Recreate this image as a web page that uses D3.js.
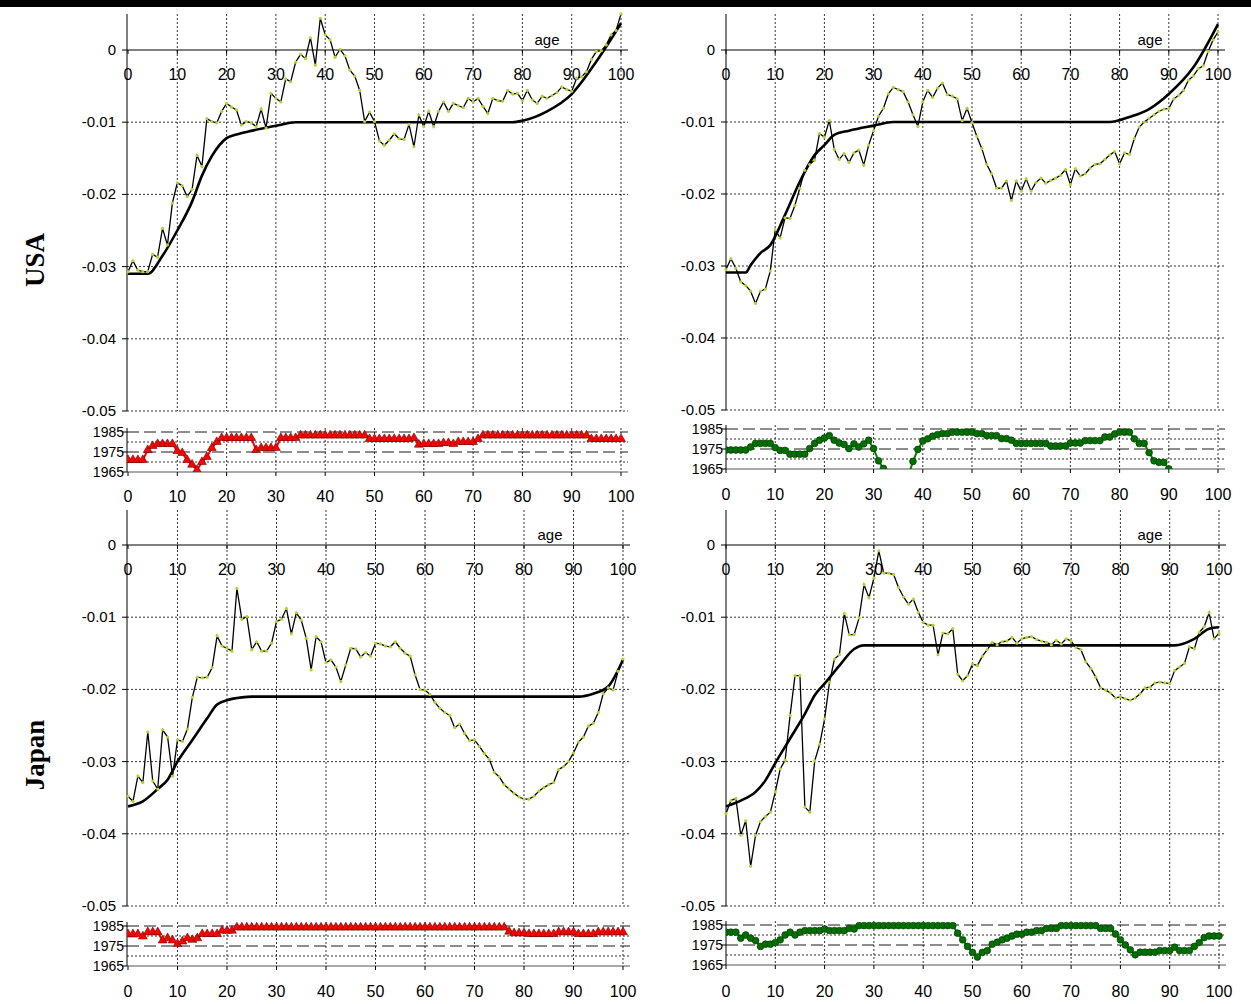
<!DOCTYPE html>
<html><head><meta charset="utf-8">
<script src="https://cdn.jsdelivr.net/npm/d3@7"></script>
<style>body{margin:0;background:#fff}svg{display:block;font-family:"Liberation Sans",Arial,sans-serif}</style>
</head><body>
<svg id="c" width="1251" height="1004"></svg>
<script>
const ages = d3.range(0,101);
const yTicks = [0,-0.01,-0.02,-0.03,-0.04,-0.05];
const stripTicks = [1985,1975,1965];
const xTicks = [0,10,20,30,40,50,60,70,80,90,100];
const rowLabels = ["USA","Japan"];

const usaMaleNoisy = [-30.7,-29.2,-30.5,-30.7,-30.7,-28.3,-28.7,-24.7,-27,-21.2,-18.4,-18.8,-20.3,-19.3,-14.6,-16.1,-9.5,-9.9,-10.1,-8.5,-7.4,-7.9,-8.3,-10.4,-9.9,-10.1,-10.6,-8.2,-10.8,-6,-6.7,-7.2,-4,-4.4,-1.7,-0.6,-1.2,1.7,-2.1,4.4,2.1,1.4,-1,0.1,-0.8,-2.8,-3.6,-5.6,-9.9,-8.6,-9.9,-12.6,-13.2,-12.5,-11.6,-12.3,-12.4,-10.3,-13.4,-9,-10.6,-8.5,-10.6,-8.5,-7.2,-8.5,-7.4,-7.7,-8,-6.7,-7.2,-6.7,-7.8,-8.8,-6.7,-7,-7.1,-5.6,-6.1,-6,-7,-5.6,-6.9,-7.4,-6.4,-6.7,-6.3,-5.9,-5.1,-5.5,-5.7,-3.9,-3.7,-3,-1.3,-0.2,-0.1,0.7,2.1,2.7,5.0];
const usaFemaleNoisy = [-30.5,-29,-30.3,-32.2,-32.7,-33.5,-35.2,-33.5,-33.2,-30.7,-25,-26.1,-23.3,-23.4,-21.6,-19.2,-16.7,-15.9,-15.3,-11.6,-12.1,-9.8,-13.8,-15.2,-14.4,-15.6,-14.3,-13.9,-16,-13.2,-11.2,-9.2,-8.1,-6.1,-5.2,-5.5,-5.8,-7.2,-9,-10.6,-7.2,-5.6,-6.6,-5.3,-4.6,-6.2,-6.4,-6.8,-9.8,-8.1,-10.1,-12,-13.7,-15.9,-17.2,-19.2,-19.2,-18.2,-20.9,-18.2,-19.6,-17.9,-19.6,-18.4,-17.8,-18.5,-18.1,-17.8,-17.4,-16.6,-18.7,-16.5,-17.5,-17.2,-16.4,-15.9,-15.8,-15.2,-14.6,-14.1,-15.8,-14.3,-14.5,-12.3,-10.7,-10,-9.5,-9,-8.5,-8.2,-8.1,-6.8,-6.3,-5.6,-4.2,-3.6,-2.6,-2.2,-0.2,1.4,2.5];
const japanMaleNoisy = [-34.8,-35.5,-32,-32.9,-25.9,-32.7,-33.8,-25.6,-26.6,-32,-27,-27.2,-25.5,-21.1,-18.3,-18.4,-18.3,-17,-12.6,-14,-14.3,-14.7,-6,-10.3,-9.9,-14.5,-13.4,-14.7,-14.7,-13.6,-10.6,-10.3,-8.8,-12.3,-9.4,-10.4,-12.9,-17.3,-12.7,-13.4,-16.3,-15.9,-16.9,-18.9,-16.6,-14.3,-14.4,-15.5,-14.9,-15.4,-13.6,-13.7,-14,-14.1,-13.4,-14.3,-15,-15.4,-18,-20,-20.1,-20.7,-21.8,-22.6,-23.2,-23.6,-25.3,-24.8,-26.1,-27.1,-27,-27.9,-28.9,-29.7,-31.5,-32.1,-33.2,-33.8,-34.4,-34.9,-35.2,-35.2,-34.8,-34.1,-33.6,-33.2,-32.9,-31.1,-30.7,-30,-28.8,-27.3,-26.6,-25.1,-24.7,-23.2,-20.6,-19.8,-20.1,-17.5,-15.8];
const japanFemaleNoisy = [-37.2,-35.4,-35.1,-40.2,-38.2,-44.5,-40.2,-38.3,-37.6,-37,-34.2,-31,-29.8,-23.6,-18.1,-18.1,-36.3,-37,-29.9,-27.6,-24.1,-19,-15.8,-15.2,-9.5,-12.4,-12.4,-10.1,-5.5,-7.3,-4.6,-0.8,-3.9,-3.9,-4.1,-5.9,-7.2,-8.2,-7.5,-9.3,-10.7,-11.1,-11.1,-15.2,-12.2,-12.3,-11.6,-17.9,-18.8,-18.1,-16.5,-16.7,-15.4,-14.5,-13.5,-13.8,-13.4,-13.3,-12.8,-13.6,-13,-12.8,-12.7,-13.1,-13.3,-13.5,-13.8,-13.2,-13.7,-13,-13.3,-14.2,-14.5,-16.2,-17.1,-18.3,-19.8,-20.1,-20.5,-21.2,-21,-21.3,-21.5,-21.2,-20.6,-19.8,-19.7,-19.1,-19,-19.1,-19.2,-17.4,-16.9,-16.4,-14.1,-14.4,-12.1,-11.3,-9.4,-13,-12.2];

const usaMaleSmoothAge = [0,4,7,10,13,15,17,20,22,25,30,34,78,80,85,90,95,100];
const usaMaleSmoothVal = [-31,-31,-28.5,-25,-21,-17.4,-14.7,-12.2,-11.7,-11.2,-10.5,-10,-10,-9.8,-8.5,-6.1,-1.6,3.7];
const usaFemaleSmoothAge = [0,4,5,7,9,12,15,18,20,22,25,30,34,78,82,86,90,95,100];
const usaFemaleSmoothVal = [-30.9,-30.9,-29.9,-28.2,-27.1,-22.9,-18.3,-14.6,-13.2,-11.8,-11.2,-10.5,-10,-10,-9.3,-8.2,-6.1,-2.4,3.6];
const japanMaleSmoothAge = [0,3,6,8,10,13,16,18,20,23,25,91,94,97,100];
const japanMaleSmoothVal = [-36.2,-35.5,-33.8,-32.5,-30,-27,-24,-22.1,-21.5,-21.1,-21,-21,-20.6,-19.6,-15.9];
const japanFemaleSmoothAge = [0,3,6,8,10,13,16,18,20,23,26,28,29,91,95,98,100];
const japanFemaleSmoothVal = [-36.2,-35.4,-34.2,-32.6,-30.2,-26.8,-23.4,-20.8,-19.2,-16.7,-14.4,-13.9,-13.9,-13.9,-13,-11.6,-11.4];

const usaMaleYear = [1971,1971,1971,1971,1976,1978,1979,1979,1979,1979,1975.5,1974.5,1971,1968.7,1966,1970,1972.5,1977,1980,1982,1982,1982,1982,1982,1982,1982,1976,1977,1977,1977,1977,1982,1982,1982,1982,1983.3,1983.3,1983.3,1983.3,1983.3,1983.3,1983.3,1983.3,1983.3,1983.3,1983.3,1983.3,1983.3,1983.3,1981.5,1981.5,1981.5,1981.5,1981.5,1981.5,1981.5,1981.5,1981.5,1982,1978.7,1979,1979,1979,1979,1979.5,1979.5,1979,1980,1980,1980,1980,1981.5,1983.3,1983.3,1983.3,1983.3,1983.3,1983.3,1983.3,1983.3,1983.3,1983.3,1983.3,1983.3,1983.3,1983.3,1983.3,1983.3,1983.3,1983.3,1983.3,1983.3,1983.3,1983.3,1981.5,1981.5,1981.5,1981.5,1981.5,1981.5,1981.5];
const usaFemaleYear = [1974.5,1974.5,1974.5,1974.5,1974.5,1976,1977.8,1977.8,1977.8,1977.8,1975.7,1974.3,1974.3,1972.4,1972.4,1972.4,1972.4,1975.2,1977.8,1979.4,1980.5,1981.7,1979.4,1978,1977.3,1975.2,1977.6,1976,1977.6,1979.4,1975.2,1969.1,1965.3,1961,1958,1958,1958,1961,1968.8,1974.8,1979,1980.1,1981.4,1982.2,1982.7,1982.7,1983.4,1983.4,1983.4,1983.4,1983.4,1982.7,1982.7,1981.7,1981.7,1981.7,1980.2,1980.2,1979.4,1977.8,1977.8,1977.8,1977.8,1977.8,1977.8,1977.8,1976.5,1976.5,1976.5,1976.5,1978,1978,1978,1979.2,1979.2,1979.2,1979.2,1981,1981,1982.5,1983.4,1983.4,1983.4,1980.1,1977.8,1977.8,1973.2,1969.1,1968.3,1968.3,1965,1962,1960,1960,1960,1960,1960,1960,1960,1960,1960];
const japanMaleYear = [1980.9,1980.9,1980.9,1979.8,1981.9,1981.9,1981.9,1977.8,1978.9,1977.8,1976,1977.3,1978.9,1978.1,1978.9,1981,1981,1981,1981,1982.7,1982.7,1982.7,1984.3,1984.3,1984.3,1984.3,1984.3,1984.3,1984.3,1984.3,1984.3,1984.3,1984.3,1984.3,1984.3,1984.3,1984.3,1984.3,1984.3,1984.3,1984.3,1984.3,1984.3,1984.3,1984.3,1984.3,1984.3,1984.3,1984.3,1984.3,1984.3,1984.3,1984.3,1984.3,1984.3,1984.3,1984.3,1984.3,1984.3,1984.3,1984.3,1984.3,1984.3,1984.3,1984.3,1984.3,1984.3,1984.3,1984.3,1984.3,1984.3,1984.3,1984.3,1984.3,1984.3,1984.3,1984.3,1982.2,1981.4,1981.4,1981.4,1981,1981,1981,1981,1981,1981,1981.9,1981.9,1981.9,1981.9,1981,1981,1981,1981,1981.9,1981.9,1981.9,1981.9,1981.9,1981.9];
const japanFemaleYear = [1981.4,1981.4,1981.4,1978.4,1980,1978.4,1977.2,1974.3,1975.4,1975.4,1976.2,1977.6,1980,1981.4,1980,1981.4,1982.2,1982.2,1982.2,1982.2,1983,1982.2,1982.2,1982.2,1982.2,1983.3,1983,1984.7,1984.7,1984.7,1984.7,1984.7,1984.7,1984.7,1984.7,1984.7,1984.7,1984.7,1984.7,1984.7,1984.7,1984.7,1984.7,1984.7,1984.7,1984.7,1984.7,1980.9,1977.6,1974.3,1971.3,1969,1971.3,1972.2,1975.4,1976.4,1977.6,1978.4,1979.5,1980.4,1980.4,1981.4,1981.4,1982.2,1982.2,1983.3,1983.3,1983.3,1984.7,1984.7,1984.7,1984.7,1984.7,1984.7,1984.7,1984.7,1983.3,1983.3,1983.3,1980.5,1977.6,1975,1972.6,1970.1,1971.4,1971.4,1971.4,1971.4,1972.2,1972.2,1972.2,1973.9,1972.2,1972.2,1972.2,1974.3,1976.2,1978.7,1979.5,1979.5,1979.5];

const panels = [
 {noisy:usaMaleNoisy, sA:usaMaleSmoothAge, sV:usaMaleSmoothVal, yr:usaMaleYear, kind:"tri",
  ax:127, x0:128, x1:621, top:14, y0:50, y5:411, s85:432, s65:472, lab:502, ageX:547},
 {noisy:usaFemaleNoisy, sA:usaFemaleSmoothAge, sV:usaFemaleSmoothVal, yr:usaFemaleYear, kind:"dot",
  ax:726, x0:726, x1:1218, top:14, y0:50, y5:410, s85:429, s65:469, lab:500, ageX:1150},
 {noisy:japanMaleNoisy, sA:japanMaleSmoothAge, sV:japanMaleSmoothVal, yr:japanMaleYear, kind:"tri",
  ax:127, x0:128, x1:623, top:510, y0:545, y5:906, s85:926, s65:966, lab:997, ageX:550},
 {noisy:japanFemaleNoisy, sA:japanFemaleSmoothAge, sV:japanFemaleSmoothVal, yr:japanFemaleYear, kind:"dot",
  ax:726, x0:726, x1:1219, top:510, y0:545, y5:906, s85:925, s65:965, lab:997, ageX:1150}
];

const svg = d3.select("#c");
svg.append("rect").attr("x",0).attr("y",0).attr("width",1251).attr("height",7).attr("fill","#000");
const fmt = d => d===0 ? "0" : d.toFixed(2);

panels.forEach((p,i)=>{
  const g = svg.append("g");
  const x = d3.scaleLinear().domain([0,100]).range([p.x0,p.x1]);
  const y = d3.scaleLinear().domain([0,-0.05]).range([p.y0,p.y5]);
  const ys = d3.scaleLinear().domain([1965,1985]).range([p.s65,p.s85]);
  const right = p.x1+7;
  g.selectAll(".vg").data(xTicks.slice(1)).join("line")
    .attr("x1",d=>x(d)).attr("x2",d=>x(d)).attr("y1",p.top).attr("y2",p.y5)
    .attr("stroke","#000").attr("stroke-width",0.8).attr("stroke-dasharray","2,2");
  g.selectAll(".hg").data(yTicks.slice(1)).join("line")
    .attr("x1",p.ax).attr("x2",right).attr("y1",d=>y(d)).attr("y2",d=>y(d))
    .attr("stroke","#000").attr("stroke-width",0.8).attr("stroke-dasharray","2,2");
  g.append("line").attr("x1",p.ax).attr("x2",right).attr("y1",y(0)).attr("y2",y(0)).attr("stroke","#000").attr("stroke-width",1);
  g.append("line").attr("x1",p.ax).attr("x2",p.ax).attr("y1",p.top).attr("y2",p.y5).attr("stroke","#000").attr("stroke-width",1);
  g.selectAll(".yt").data(yTicks).join("line").attr("x1",p.ax-5).attr("x2",p.ax).attr("y1",d=>y(d)).attr("y2",d=>y(d)).attr("stroke","#000");
  g.selectAll(".yl").data(yTicks).join("text").attr("x",p.ax-11).attr("y",d=>y(d)+5)
    .attr("text-anchor","end").attr("font-size",15).text(fmt);
  g.selectAll(".xt").data(xTicks).join("line").attr("x1",d=>x(d)).attr("x2",d=>x(d)).attr("y1",y(0)).attr("y2",y(0)+4).attr("stroke","#000");
  g.selectAll(".xl").data(xTicks).join("text").attr("x",d=>x(d)).attr("y",y(0)+30)
    .attr("text-anchor","middle").attr("font-size",16).text(d=>d);
  g.append("text").attr("x",p.ageX).attr("y",y(0)-5).attr("text-anchor","middle").attr("font-size",15).text("age");

  const sm = p.sA.map((a,k)=>[a,p.sV[k]/1000]);
  g.append("path").datum(sm).attr("fill","none").attr("stroke","#000").attr("stroke-width",2.6)
    .attr("d",d3.line().x(d=>x(d[0])).y(d=>y(d[1])).curve(d3.curveMonotoneX));
  const nz = ages.map(a=>[a,p.noisy[a]/1000]);
  g.append("path").datum(nz).attr("fill","none").attr("stroke","#000").attr("stroke-width",1.3)
    .attr("d",d3.line().x(d=>x(d[0])).y(d=>y(d[1])));
  g.selectAll(".nd").data(nz).join("circle").attr("cx",d=>x(d[0])).attr("cy",d=>y(d[1])).attr("r",1.6).attr("fill","#b8d030");

  const sl = p.ax, sr = right;
  g.selectAll(".svg2").data(xTicks.slice(1)).join("line")
    .attr("x1",d=>x(d)).attr("x2",d=>x(d)).attr("y1",p.s85-4).attr("y2",p.s65)
    .attr("stroke","#000").attr("stroke-width",0.8).attr("stroke-dasharray","2,2");
  [1980,1970].forEach(v=>g.append("line").attr("x1",sl).attr("x2",sr).attr("y1",ys(v)).attr("y2",ys(v))
    .attr("stroke","#000").attr("stroke-width",0.8).attr("stroke-dasharray","2,2"));
  [1985,1975].forEach(v=>g.append("line").attr("x1",sl).attr("x2",sr).attr("y1",ys(v)).attr("y2",ys(v))
    .attr("stroke","#000").attr("stroke-width",0.9).attr("stroke-dasharray","12,5"));
  g.append("line").attr("x1",sl).attr("x2",sr).attr("y1",ys(1965)).attr("y2",ys(1965)).attr("stroke","#555").attr("stroke-width",1.2);
  g.append("line").attr("x1",p.ax).attr("x2",p.ax).attr("y1",p.s85-4).attr("y2",p.s65).attr("stroke","#000");
  g.selectAll(".st").data(stripTicks).join("line").attr("x1",p.ax-5).attr("x2",p.ax).attr("y1",d=>ys(d)).attr("y2",d=>ys(d)).attr("stroke","#000");
  g.selectAll(".sl").data(stripTicks).join("text").attr("x",p.ax-3).attr("y",d=>ys(d)+5)
    .attr("text-anchor","end").attr("font-size",14).text(d=>d);
  g.selectAll(".bt").data(xTicks).join("line").attr("x1",d=>x(d)).attr("x2",d=>x(d)).attr("y1",p.s65).attr("y2",p.s65+4).attr("stroke","#000");
  g.selectAll(".bl").data(xTicks).join("text").attr("x",d=>x(d)).attr("y",p.lab)
    .attr("text-anchor","middle").attr("font-size",16).text(d=>d);

  const cid = "clip"+i;
  svg.append("clipPath").attr("id",cid).append("rect").attr("x",p.ax).attr("y",p.s85-8).attr("width",sr-p.ax+4).attr("height",p.s65-p.s85+8);
  const sg = g.append("g").attr("clip-path",`url(#${cid})`);
  const yd = ages.map(a=>[a,p.yr[a]]);
  const col = p.kind==="tri" ? "#ff0000" : "#008000";
  sg.append("path").datum(yd).attr("fill","none").attr("stroke",col).attr("stroke-width",2)
    .attr("d",d3.line().x(d=>x(d[0])).y(d=>ys(d[1])));
  if(p.kind==="tri"){
    sg.selectAll(".m").data(yd).join("path")
      .attr("transform",d=>`translate(${x(d[0])},${ys(d[1])})`)
      .attr("d",d3.symbol(d3.symbolTriangle,34)()).attr("fill","#ff0000").attr("stroke","#600").attr("stroke-width",0.6);
  } else {
    sg.selectAll(".m").data(yd.filter(d=>d[1]>=1965)).join("circle")
      .attr("cx",d=>x(d[0])).attr("cy",d=>ys(d[1])).attr("r",3.4).attr("fill","#007000").attr("stroke","#003300").attr("stroke-width",0.6);
  }
});

rowLabels.forEach((t,i)=>{
  svg.append("text").attr("transform",`translate(44,${i===0?260:755}) rotate(-90)`)
    .attr("text-anchor","middle").attr("font-family","'Liberation Serif','Times New Roman',serif")
    .attr("font-weight","bold").attr("font-size",27).text(t);
});
</script>
</body></html>
